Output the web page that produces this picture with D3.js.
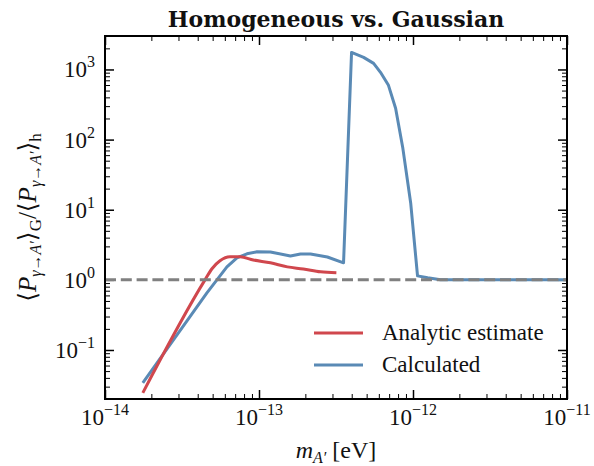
<!DOCTYPE html>
<html>
<head>
<meta charset="utf-8">
<script src="https://d3js.org/d3.v7.min.js"></script>
<style>
  body { margin: 0; background: #fff; }
  text { font-family: "Liberation Serif", "DejaVu Serif", serif; fill: #111; }
</style>
</head>
<body>
<div id="chart"></div>
<script>

// analytic estimate (red)
var analyticMass = [1.76e-14, 4.46e-14, 4.95e-14, 5.58e-14, 6.48e-14, 7.53e-14, 9.18e-14, 1.186e-13, 1.528e-13, 1.94e-13, 2.51e-13, 3.18e-13];
var analyticRatio = [0.0245, 1.0, 1.44, 1.87, 2.13, 2.13, 1.92, 1.75, 1.53, 1.43, 1.30, 1.26];

// calculated (blue)
var calcMass = [1.76e-14, 4.59e-14, 5.33e-14, 6.19e-14, 7.19e-14, 8.35e-14, 9.70e-14, 1.186e-13, 1.60e-13, 1.86e-13, 2.16e-13, 2.78e-13, 3.54e-13,
                3.99e-13, 4.78e-13, 5.55e-13, 6.15e-13, 6.93e-13, 7.71e-13, 8.57e-13, 9.66e-13, 1.07e-12, 1.245e-12, 1.51e-12,
                2e-12, 3e-12, 5e-12, 7e-12, 1e-11];
var calcRatio = [0.034, 0.652, 1.0, 1.53, 2.06, 2.35, 2.51, 2.50, 2.19, 2.34, 2.34, 2.12, 1.75,
                 1750, 1487, 1222, 910, 594, 280, 78, 12.5, 1.14, 1.07, 1.0,
                 1.0, 1.0, 1.0, 1.0, 1.0];

var xTickExps = [-14, -13, -12, -11];
var yTickExps = [-1, 0, 1, 2, 3];
var legendLabels = ["Analytic estimate", "Calculated"];

var red = "#d0474d", blue = "#5a8ab5";

var margin = {top: 36, right: 27, bottom: 67, left: 105},
    width = 594 - margin.left - margin.right,
    height = 466 - margin.top - margin.bottom;

var x = d3.scaleLog().domain([1e-14, 1e-11]).range([0, width]);
var y = d3.scaleLog().domain([0.02, 3000]).range([height, 0]);

var svg = d3.select("#chart").append("svg")
    .attr("width", 594)
    .attr("height", 466);

var g = svg.append("g")
    .attr("transform", "translate(" + margin.left + "," + margin.top + ")");

// minor tick positions (2..9 inside each decade)
function minorTicks(scale) {
  var d = scale.domain();
  var lo = Math.floor(Math.log10(d[0])), hi = Math.ceil(Math.log10(d[1]));
  var out = [];
  for (var e = lo; e < hi; e++) {
    for (var k = 2; k < 10; k++) {
      var v = k * Math.pow(10, e);
      if (v >= d[0] && v <= d[1]) out.push(v);
    }
  }
  return out;
}

var xMajor = xTickExps.map(function(e) { return Math.pow(10, e); });
var yMajor = yTickExps.map(function(e) { return Math.pow(10, e); });

function styleAxis(sel, w) {
  sel.select(".domain").remove();
  sel.selectAll("line").attr("stroke", "#000").attr("stroke-width", w);
  sel.selectAll("text").remove();
}

// ticks on all four sides, pointing inward
g.append("g").attr("transform", "translate(0," + height + ")")
  .call(d3.axisBottom(x).tickValues(xMajor).tickSize(-9)).call(styleAxis, 1.5);
g.append("g").attr("transform", "translate(0," + height + ")")
  .call(d3.axisBottom(x).tickValues(minorTicks(x)).tickSize(-5)).call(styleAxis, 1);
g.append("g")
  .call(d3.axisTop(x).tickValues(xMajor).tickSize(-9)).call(styleAxis, 1.5);
g.append("g")
  .call(d3.axisTop(x).tickValues(minorTicks(x)).tickSize(-5)).call(styleAxis, 1);
g.append("g")
  .call(d3.axisLeft(y).tickValues(yMajor).tickSize(-9)).call(styleAxis, 1.5);
g.append("g")
  .call(d3.axisLeft(y).tickValues(minorTicks(y)).tickSize(-5)).call(styleAxis, 1);
g.append("g").attr("transform", "translate(" + width + ",0)")
  .call(d3.axisRight(y).tickValues(yMajor).tickSize(-9)).call(styleAxis, 1.5);
g.append("g").attr("transform", "translate(" + width + ",0)")
  .call(d3.axisRight(y).tickValues(minorTicks(y)).tickSize(-5)).call(styleAxis, 1);

// tick labels 10^n
function powLabel(sel, e) {
  sel.append("tspan").text("10");
  sel.append("tspan").attr("dy", -10).style("font-size", "16px")
    .text(e < 0 ? "\u2212" + (-e) : String(e));
}

xTickExps.forEach(function(e) {
  g.append("text")
    .attr("x", x(Math.pow(10, e)))
    .attr("y", height + 26)
    .attr("text-anchor", "middle")
    .style("font-size", "23px")
    .call(powLabel, e);
});

yTickExps.forEach(function(e) {
  g.append("text")
    .attr("x", -10)
    .attr("y", y(Math.pow(10, e)) + 8)
    .attr("text-anchor", "end")
    .style("font-size", "23px")
    .call(powLabel, e);
});

// lines
var line = d3.line()
  .x(function(d) { return x(d[0]); })
  .y(function(d) { return y(d[1]); });

var analytic = analyticMass.map(function(m, i) { return [m, analyticRatio[i]]; });
var calc = calcMass.map(function(m, i) { return [m, calcRatio[i]]; });

g.append("path")
  .attr("d", line(calc))
  .attr("fill", "none").attr("stroke", blue).attr("stroke-width", 3).attr("stroke-linejoin", "round");
g.append("path")
  .attr("d", line.curve(d3.curveMonotoneX)(analytic))
  .attr("fill", "none").attr("stroke", red).attr("stroke-width", 3);

// y = 1 reference
g.append("line")
  .attr("x1", 0).attr("x2", width)
  .attr("y1", y(1)).attr("y2", y(1))
  .attr("stroke", "#808080").attr("stroke-width", 3)
  .attr("stroke-dasharray", "11,4.8");

// frame
g.append("rect").attr("width", width).attr("height", height)
  .attr("fill", "none").attr("stroke", "#000").attr("stroke-width", 2);

// legend
var leg = g.append("g").attr("transform", "translate(" + (314 - margin.left) + "," + (333 - margin.top) + ")");
[red, blue].forEach(function(c, i) {
  leg.append("line").attr("x1", 0).attr("x2", 49).attr("y1", i * 32).attr("y2", i * 32)
    .attr("stroke", c).attr("stroke-width", 3);
  leg.append("text").attr("x", 68).attr("y", i * 32 + 7)
    .style("font-size", "23px").text(legendLabels[i]);
});

// title
svg.append("text")
  .attr("x", margin.left + width / 2).attr("y", 27)
  .attr("text-anchor", "middle")
  .style("font-family", "DejaVu Serif")
  .style("font-size", "22px").style("font-weight", "bold")
  .text("Homogeneous vs. Gaussian");

// x label
var xl = svg.append("text")
  .attr("x", margin.left + width / 2).attr("y", 458)
  .attr("text-anchor", "middle")
  .style("font-size", "24px");
xl.append("tspan").style("font-style", "italic").text("m");
xl.append("tspan").attr("dy", 5).style("font-size", "16px").style("font-style", "italic").text("A\u2032");
xl.append("tspan").attr("dy", -5).text(" [eV]");

// y label
var yl = svg.append("text")
  .attr("transform", "translate(36," + (margin.top + height / 2) + ") rotate(-90)")
  .attr("text-anchor", "middle")
  .style("font-size", "25px");
function prob(sel) {
  sel.append("tspan").text("\u27E8");
  sel.append("tspan").style("font-style", "italic").text("P");
  sel.append("tspan").attr("dy", 5).style("font-size", "16px").style("font-style", "italic").text("\u03B3\u2192A\u2032");
  sel.append("tspan").attr("dy", -5).text("\u27E9");
}
prob(yl);
yl.append("tspan").attr("dy", 5).style("font-size", "17px").text("G");
yl.append("tspan").attr("dy", -5).text("/");
prob(yl);
yl.append("tspan").attr("dy", 5).style("font-size", "17px").text("h");

</script>
</body>
</html>
